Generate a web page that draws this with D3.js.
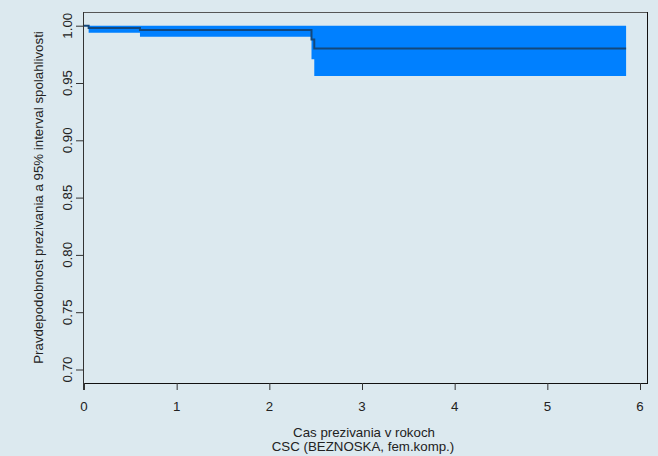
<!DOCTYPE html>
<html>
<head>
<meta charset="utf-8">
<script src="https://cdn.jsdelivr.net/npm/d3@7"></script>
<style>
  html, body { margin: 0; padding: 0; background: #dce9ef; }
  svg { display: block; }
  text { font-family: "Liberation Sans", Arial, sans-serif; fill: #222; }
</style>
</head>
<body>
<svg id="chart" width="658" height="456"></svg>
<script>
// Kaplan-Meier estimate with 95% confidence band (step function)
const times   = [0, 0.05, 0.604, 2.455, 2.485, 5.85];
const surv    = [1.0, 0.998, 0.9962, 0.988, 0.980, 0.980];
const lower   = [1.0, 0.9939, 0.9904, 0.9707, 0.956, 0.956];
const upper   = [1.0, 1.0, 1.0, 1.0, 1.0, 1.0];
const xTicks  = [0, 1, 2, 3, 4, 5, 6];
const yTicks  = [0.70, 0.75, 0.80, 0.85, 0.90, 0.95, 1.00];

const svg = d3.select("#chart");
const plot = { left: 84, right: 647, top: 12, bottom: 383 };
const fs = 13.3;

const x = d3.scaleLinear().domain([0, 6]).range([84, 640]);
const y = d3.scaleLinear().domain([0.70, 1.00]).range([369.5, 25.7]);

const rows = times.map((t, i) => ({ t, s: surv[i], lo: lower[i], hi: upper[i] }));

// frame (top and right)
svg.append("line").attr("x1", plot.left).attr("x2", plot.right)
  .attr("y1", plot.top + 0.5).attr("y2", plot.top + 0.5)
  .attr("stroke", "#555").attr("stroke-width", 1);
svg.append("line").attr("x1", plot.right + 0.5).attr("x2", plot.right + 0.5)
  .attr("y1", plot.top).attr("y2", plot.bottom)
  .attr("stroke", "#111").attr("stroke-width", 1);

// confidence band (starts after the first event)
const bandRows = rows.slice(1);
svg.append("path")
  .datum(bandRows)
  .attr("fill", "#0080ff")
  .attr("d", d3.area().curve(d3.curveStepAfter)
    .x(d => x(d.t)).y0(d => y(d.lo)).y1(d => y(d.hi)));

// survival curve
svg.append("path")
  .datum(rows)
  .attr("fill", "none")
  .attr("stroke", "#13487d")
  .attr("stroke-width", 2)
  .attr("d", d3.line().curve(d3.curveStepAfter).x(d => x(d.t)).y(d => y(d.s)));

// x axis
const xAxis = svg.append("g").attr("transform", `translate(0,${plot.bottom})`);
xAxis.append("line").attr("x1", plot.left).attr("x2", plot.right + 1)
  .attr("y1", 0.5).attr("y2", 0.5).attr("stroke", "#111");
xAxis.selectAll("line.tick").data(xTicks).enter().append("line")
  .attr("class", "tick")
  .attr("x1", d => x(d) + 0.5).attr("x2", d => x(d) + 0.5)
  .attr("y1", 0).attr("y2", 7).attr("stroke", "#333");
xAxis.selectAll("text").data(xTicks).enter().append("text")
  .attr("x", d => x(d)).attr("y", 27.5)
  .attr("text-anchor", "middle").attr("font-size", fs)
  .text(d => d3.format("d")(d));

// y axis
const yAxis = svg.append("g").attr("transform", `translate(${plot.left},0)`);
yAxis.append("line").attr("x1", -0.5).attr("x2", -0.5)
  .attr("y1", plot.top).attr("y2", plot.bottom + 7).attr("stroke", "#333");
yAxis.selectAll("line.tick").data(yTicks).enter().append("line")
  .attr("class", "tick")
  .attr("x1", -8).attr("x2", 0)
  .attr("y1", d => y(d) + 0.5).attr("y2", d => y(d) + 0.5).attr("stroke", "#333");
yAxis.selectAll("text").data(yTicks).enter().append("text")
  .attr("transform", d => `translate(-12,${y(d)}) rotate(-90)`)
  .attr("text-anchor", "middle").attr("font-size", fs)
  .text(d => d3.format(".2f")(d));

// axis titles
svg.append("text")
  .attr("transform", `translate(43,${(plot.top + plot.bottom) / 2}) rotate(-90)`)
  .attr("text-anchor", "middle").attr("font-size", fs)
  .text("Pravdepodobnost prezivania a 95% interval spolahlivosti");
svg.append("text").attr("x", 364).attr("y", 437)
  .attr("text-anchor", "middle").attr("font-size", fs)
  .text("Cas prezivania v rokoch");
svg.append("text").attr("x", 363).attr("y", 451)
  .attr("text-anchor", "middle").attr("font-size", fs)
  .text("CSC (BEZNOSKA, fem.komp.)");
</script>
</body>
</html>
